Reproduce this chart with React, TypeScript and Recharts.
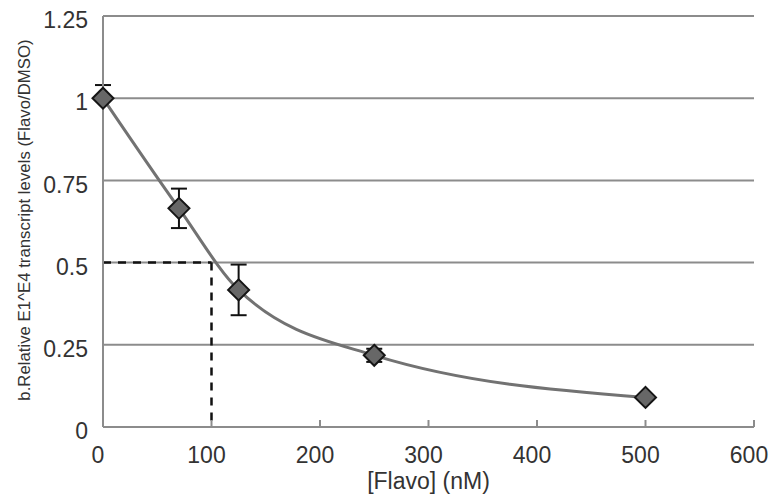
import React from "react"
import {
  ComposedChart,
  Line,
  XAxis,
  YAxis,
  CartesianGrid,
  ErrorBar,
  ReferenceLine,
  Label,
} from "recharts"

const concentrations = [0, 70, 125, 250, 500]
const relativeLevels = [1, 0.665, 0.417, 0.218, 0.09]
// [below, above]
const errors = [[0, 0.04], [0.06, 0.06], [0.077, 0.077], [0.02, 0.02], [0, 0]]
const xTicks = [0, 100, 200, 300, 400, 500, 600]
const yTicks = [0, 0.25, 0.5, 0.75, 1, 1.25]
const ic50 = { x: 100, y: 0.5 }

const data = concentrations.map((c, i) => ({
  conc: c,
  level: relativeLevels[i],
  err: errors[i],
}))

const FONT = "'Liberation Sans', Arial, sans-serif"
const TEXT = "#333"
const GRID = "#8c8c8c"

const Diamond = (props: any) => {
  const { cx, cy } = props
  if (cx == null || cy == null) return null
  const r = 10.5
  return (
    <polygon
      points={`${cx},${cy - r} ${cx + r},${cy} ${cx},${cy + r} ${cx - r},${cy}`}
      fill="#676767"
      stroke="#151515"
      strokeWidth={2}
    />
  )
}

const XTick = (props: any) => {
  const { x, y, payload } = props
  const axisY = y - 20
  return (
    <g>
      <line x1={x} x2={x} y1={axisY} y2={axisY - 7} stroke={GRID} strokeWidth={2} />
      <text x={x - 5} y={y} dy="0.71em" textAnchor="middle" fill={TEXT} fontSize={23} fontFamily={FONT}>
        {payload.value}
      </text>
    </g>
  )
}

const YTick = (props: any) => {
  const { x, y, payload } = props
  return (
    <text x={x} y={y + 4} dy="0.355em" textAnchor="end" fill={TEXT} fontSize={23} fontFamily={FONT}>
      {payload.value}
    </text>
  )
}

export default function App() {
  return (
    <div style={{ position: "absolute", left: 0, top: 0, background: "#fff" }}>
      <ComposedChart
        width={770}
        height={498}
        data={data}
        margin={{ top: 16, right: 16, left: 0, bottom: 0 }}
      >
        <CartesianGrid vertical={false} stroke={GRID} strokeWidth={2} />
        <XAxis
          dataKey="conc"
          type="number"
          domain={[0, 600]}
          ticks={xTicks}
          height={71}
          tickSize={0}
          tickMargin={20}
          axisLine={{ stroke: GRID, strokeWidth: 2 }}
          tickLine={false}
          tick={<XTick />}
        >
          <Label
            content={({ viewBox }: any) => (
              <text
                x={viewBox.x + viewBox.width / 2}
                y={viewBox.y + 62}
                textAnchor="middle"
                fill={TEXT}
                fontSize={23}
                fontFamily={FONT}
              >
                [Flavo] (nM)
              </text>
            )}
          />
        </XAxis>
        <YAxis
          type="number"
          domain={[0, 1.25]}
          ticks={yTicks}
          width={103}
          tickSize={0}
          tickMargin={15}
          axisLine={{ stroke: GRID, strokeWidth: 2 }}
          tickLine={false}
          tick={<YTick />}
        >
          <Label
            content={() => {
              const cx = 24
              const cy = 220
              return (
                <text
                  x={cx}
                  y={cy}
                  transform={`rotate(-90, ${cx}, ${cy})`}
                  textAnchor="middle"
                  dominantBaseline="central"
                  fill={TEXT}
                  fontSize={16.8}
                  fontFamily={FONT}
                >
                  b.Relative E1^E4 transcript levels (Flavo/DMSO)
                </text>
              )
            }}
          />
        </YAxis>
        <ReferenceLine
          segment={[{ x: 0, y: ic50.y }, { x: ic50.x, y: ic50.y }]}
          stroke="#111"
          strokeWidth={2.5}
          strokeDasharray="8 7"
        />
        <ReferenceLine
          segment={[{ x: ic50.x, y: ic50.y }, { x: ic50.x, y: 0 }]}
          stroke="#111"
          strokeWidth={2.5}
          strokeDasharray="8 7"
        />
        <Line
          type="monotone"
          dataKey="level"
          stroke="#727272"
          strokeWidth={3}
          dot={<Diamond />}
          activeDot={false}
          isAnimationActive={false}
        >
          <ErrorBar dataKey="err" direction="y" width={8} stroke="#111" strokeWidth={2} />
        </Line>
      </ComposedChart>
    </div>
  )
}
